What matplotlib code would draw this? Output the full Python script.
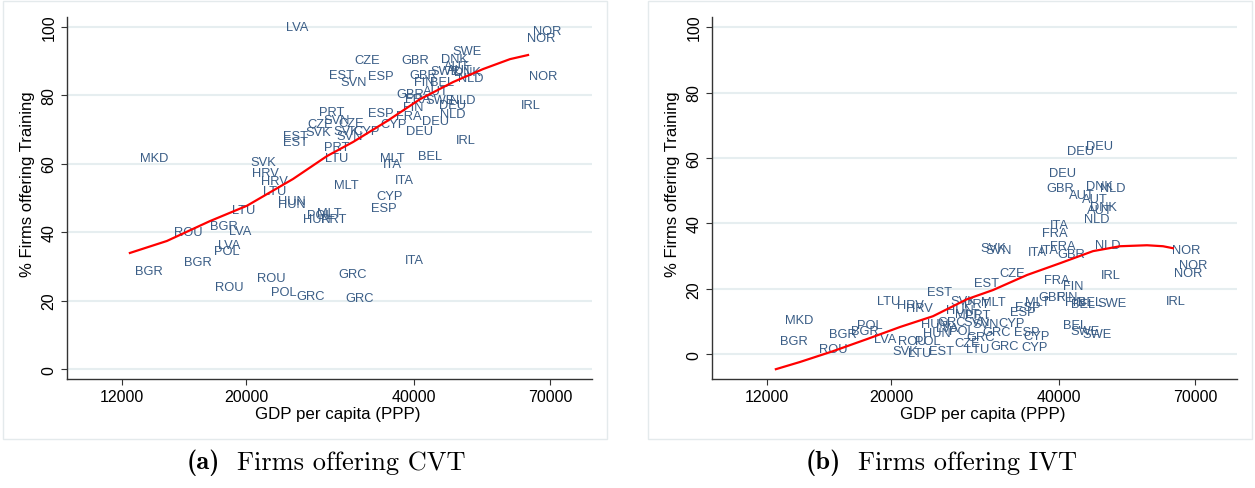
import matplotlib
matplotlib.use("Agg")
import matplotlib.pyplot as plt
from matplotlib.patches import Rectangle
from matplotlib.ticker import NullLocator

plt.rcParams['font.family'] = ['Liberation Sans', 'DejaVu Sans']

# panel (a): firms offering CVT
cvt_codes = [
    "LVA", "NOR", "NOR", "SWE", "CZE", "GBR", "DNK", "AUT", "SWE", "AUT",
    "DNK", "EST", "ESP", "GBR", "NLD", "NOR", "SVN", "FIN", "BEL", "GBR",
    "AUT", "FRA", "SWE", "NLD", "DEU", "IRL", "FIN", "ESP", "PRT", "FRA",
    "NLD", "DEU", "CZE", "CZE", "CYP", "SVN", "SVK", "SVK", "CYP", "DEU",
    "EST", "EST", "SVN", "IRL", "PRT", "LTU", "MKD", "MLT", "BEL", "SVK",
    "ITA", "HRV", "ITA", "HRV", "MLT", "LTU", "CYP", "HUN", "HUN", "ESP",
    "LTU", "POL", "MLT", "HUN", "PRT", "BGR", "LVA", "ROU", "LVA", "POL",
    "ITA", "BGR", "BGR", "GRC", "ROU", "ROU", "POL", "GRC", "GRC",
]
cvt_gdp = [
    24700, 69100, 67400, 49700, 32900, 40100, 47300, 47700, 45400, 48300,
    49900, 29600, 34900, 41500, 50500, 68000, 31100, 41600, 44900, 39300,
    43800, 40600, 44500, 48900, 46900, 64700, 39900, 34900, 28500, 39100,
    46900, 43600, 27100, 30800, 36700, 29100, 27000, 30300, 32900, 40800,
    24500, 24500, 30700, 49500, 29100, 29000, 13700, 36500, 42700, 21500,
    36500, 21700, 38400, 22500, 30300, 22500, 36200, 24200, 24200, 35300,
    19800, 27100, 28200, 26800, 28700, 18300, 19500, 15800, 18700, 18500,
    40000, 16400, 13400, 31000, 22200, 18700, 23400, 26100, 32000,
]
cvt_pct = [
    99.9, 98.7, 96.6, 92.8, 90.2, 90.2, 90.5, 88.5, 87.0, 87.3,
    86.7, 85.8, 85.5, 85.8, 85.0, 85.5, 83.8, 83.8, 83.8, 80.3,
    81.2, 78.8, 78.5, 78.5, 77.1, 77.1, 76.5, 74.7, 75.0, 73.9,
    74.5, 72.4, 71.5, 71.8, 71.5, 72.7, 69.2, 69.5, 69.5, 69.5,
    68.0, 66.3, 68.0, 66.9, 64.8, 61.6, 61.6, 61.6, 62.2, 60.4,
    59.9, 57.2, 55.2, 54.9, 53.7, 52.0, 50.5, 49.1, 48.2, 47.0,
    46.4, 45.0, 45.5, 43.8, 43.8, 41.8, 40.3, 40.0, 36.2, 34.5,
    31.8, 31.2, 28.6, 27.7, 26.6, 23.9, 22.5, 21.3, 20.7,
]
cvt_fit_gdp = [12400, 14440, 17240, 20090, 24280, 27930, 31090, 35760,
               40970, 46940, 53120, 59360, 63930]
cvt_fit_pct = [33.9, 37.4, 43.2, 47.7, 55.5, 62.2, 66.3, 72.4,
               78.8, 83.8, 87.6, 90.5, 91.7]

# panel (b): firms offering IVT
ivt_codes = [
    "DEU", "DEU", "DEU", "GBR", "AUT", "DNK", "NLD", "AUT", "DNK", "AUT",
    "NLD", "ITA", "FRA", "NLD", "SVK", "SVN", "ITA", "ITA", "FRA", "GBR",
    "NOR", "NOR", "NOR", "CZE", "EST", "FRA", "FIN", "IRL", "IRL", "GBR",
    "FIN", "FIN", "BEL", "BEL", "SWE", "MLT", "MLT", "ESP", "ESP", "CYP",
    "CYP", "CYP", "ESP", "BEL", "SWE", "SWE", "GRC", "GRC", "SVN", "CZE",
    "LTU", "GRC", "MKD", "BGR", "BGR", "BGR", "POL", "ROU", "LVA", "LTU",
    "HRV", "HRV", "EST", "SVK", "PRT", "HUN", "MLT", "PRT", "HUN", "GRC",
    "SVN", "POL", "HUN", "LVA", "ROU", "POL", "SVK", "LTU", "EST",
]
ivt_gdp = [
    43600, 47300, 40600, 40100, 43900, 47300, 49900, 46400, 47900, 47300,
    46700, 40000, 39300, 48900, 30450, 31100, 36500, 38400, 40600, 42000,
    67400, 69400, 68000, 32900, 29600, 39600, 42300, 49500, 64700, 38800,
    41300, 42700, 44100, 45500, 49700, 30450, 36500, 35200, 34500, 32900,
    36500, 36200, 35000, 42700, 44500, 46700, 30950, 32000, 29500, 27400,
    28600, 28900, 13700, 13400, 16400, 18000, 18300, 15750, 19500, 19800,
    21700, 22500, 24400, 26900, 28500, 26600, 27400, 28600, 24000, 25700,
    28500, 26800, 24200, 25200, 21800, 23300, 21200, 22500, 24600,
]
ivt_pct = [
    62.1, 63.6, 55.4, 50.8, 48.6, 51.4, 50.8, 47.4, 45.0, 44.0,
    41.3, 39.4, 37.0, 33.3, 32.4, 31.8, 31.2, 31.8, 33.0, 30.6,
    31.8, 27.2, 24.8, 24.8, 21.7, 22.6, 20.8, 24.2, 16.2, 17.4,
    17.4, 16.0, 15.3, 15.8, 15.6, 15.9, 15.9, 14.4, 12.8, 9.5,
    5.5, 2.1, 6.7, 8.9, 7.0, 6.1, 6.7, 2.4, 9.2, 3.4,
    1.5, 5.2, 10.4, 4.0, 6.1, 7.0, 8.9, 1.5, 4.6, 16.2,
    15.0, 14.1, 19.0, 16.2, 15.3, 13.5, 12.2, 11.9, 9.2, 9.8,
    9.8, 7.0, 6.4, 8.0, 4.0, 4.0, 0.9, 0.3, 0.9,
]
ivt_fit_gdp = [12450, 13750, 15750, 18120, 20760, 23780, 27360, 30450,
               35030, 40130, 45970, 51390, 57430, 61340, 63900]
ivt_fit_pct = [-4.6, -2.4, 0.9, 4.6, 8.3, 11.6, 16.8, 19.6,
               24.2, 27.8, 31.5, 33.0, 33.3, 33.0, 32.4]

x_ticks = [12000, 20000, 40000, 70000]
y_ticks = [0, 20, 40, 60, 80, 100]

LABEL_COLOR = "#3a5d86"
GRID_COLOR = "#e6eef0"

fig = plt.figure(figsize=(12.55, 4.89), dpi=100)
W, H = 1255, 489


def panel(left_px, codes, gdp, pct, fit_gdp, fit_pct, ylim):
    ax = fig.add_axes([left_px / W, (H - 380) / H, 525 / W, 362 / H])
    ax.set_xscale("log")
    ax.set_xlim(9570, 83200)
    ax.set_ylim(*ylim)
    for y in y_ticks:
        ax.axhline(y, color=GRID_COLOR, lw=1.5, zorder=0)
    for code, x, y in zip(codes, gdp, pct):
        ax.text(x, y, code, ha="center", va="center", fontsize=9.3,
                color=LABEL_COLOR, zorder=2)
    ax.plot(fit_gdp, fit_pct, color="red", lw=1.6, zorder=3)

    ax.xaxis.set_minor_locator(NullLocator())
    ax.set_xticks(x_ticks)
    ax.set_xticklabels([str(t) for t in x_ticks])
    ax.set_yticks(y_ticks)
    ax.set_yticklabels([str(t) for t in y_ticks], rotation=90, va="center")
    ax.tick_params(axis="both", labelsize=11.5, length=4.5, width=0.8,
                   color="#333333", pad=3)
    for side in ("top", "right"):
        ax.spines[side].set_visible(False)
    for side in ("left", "bottom"):
        ax.spines[side].set_color("#333333")
        ax.spines[side].set_linewidth(1.0)
    ax.set_xlabel("GDP per capita (PPP)", fontsize=12.2)
    ax.xaxis.set_label_coords(0.515, -0.075)
    ax.set_ylabel("% Firms offering Training", fontsize=12)
    ax.yaxis.set_label_coords(-0.061, 0.54)
    return ax


panel(67, cvt_codes, cvt_gdp, cvt_pct, cvt_fit_gdp, cvt_fit_pct, (-2.9, 102.8))
panel(712, ivt_codes, ivt_gdp, ivt_pct, ivt_fit_gdp, ivt_fit_pct, (-7.6, 103.1))

# faint outer borders of each graph
for x0, x1 in ((3, 607), (648, 1252)):
    fig.patches.append(Rectangle((x0 / W, (H - 440) / H), (x1 - x0) / W,
                                 438 / H, transform=fig.transFigure,
                                 fill=False, ec="#e4eaec", lw=1.0))

for tag_x, cap_x, tag, caption in ((187, 237, "(a)", "Firms offering CVT"),
                                   (806, 858, "(b)", "Firms offering IVT")):
    fig.text(tag_x / W, (H - 463) / H, tag, family="cmb10",
             fontsize=19, va="center", ha="left")
    fig.text(cap_x / W, (H - 463) / H, caption, family="cmr10",
             fontsize=19, va="center", ha="left")

fig.savefig("out.png", dpi=100)
